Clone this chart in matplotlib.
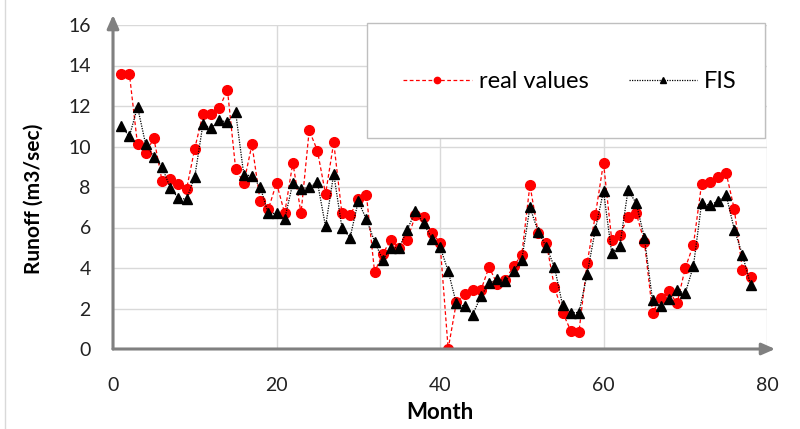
import matplotlib
matplotlib.use("Agg")
import matplotlib.pyplot as plt
from matplotlib.patches import Rectangle

months = list(range(1, 79))
real_values = [13.6, 13.6, 10.1, 9.7, 10.4, 8.3, 8.4, 8.15, 7.9, 9.9,
               11.6, 11.6, 11.9, 12.8, 8.9, 8.2, 10.1, 7.3, 6.9, 8.2,
               6.7, 9.2, 6.7, 10.8, 9.8, 7.65, 10.2, 6.7, 6.6, 7.4,
               7.6, 3.8, 4.7, 5.4, 5.0, 5.4, 6.6, 6.5, 5.75, 5.25,
               0.0, 2.3, 2.7, 2.9, 2.9, 4.05, 3.2, 3.4, 4.1, 4.65,
               8.1, 5.75, 5.25, 3.05, 1.8, 0.9, 0.85, 4.25, 6.6, 9.2,
               5.4, 5.65, 6.5, 6.7, 5.3, 1.8, 2.5, 2.85, 2.25, 4.0,
               5.15, 8.15, 8.25, 8.5, 8.7, 6.9, 3.9, 3.55]
fis_values = [11.0, 10.5, 11.95, 10.1, 9.5, 9.0, 7.95, 7.45, 7.4, 8.5,
              11.1, 10.9, 11.3, 11.2, 11.7, 8.6, 8.55, 8.0, 6.7, 6.7,
              6.4, 8.2, 7.9, 8.0, 8.25, 6.05, 8.65, 6.0, 5.5, 7.3,
              6.4, 5.3, 4.4, 5.0, 5.0, 5.9, 6.8, 6.2, 5.45, 5.05,
              3.85, 2.25, 2.1, 1.7, 2.6, 3.25, 3.45, 3.35, 3.85, 4.4,
              7.0, 5.8, 5.05, 4.05, 2.15, 1.8, 1.8, 3.7, 5.9, 7.8,
              4.75, 5.1, 7.85, 7.2, 5.5, 2.4, 2.1, 2.45, 2.9, 2.75,
              4.1, 7.2, 7.1, 7.3, 7.6, 5.9, 4.65, 3.15]
x_ticks = [0, 20, 40, 60, 80]
y_ticks = [0, 2, 4, 6, 8, 10, 12, 14, 16]

plt.rcParams['font.family'] = ['Lato', 'DejaVu Sans']

W, H = 800, 429
fig = plt.figure(figsize=(W/100, H/100), dpi=100)
ax = fig.add_axes([113/W, 1 - 349/H, (767-113)/W, (349-25)/H])

ax.plot(months, real_values, color='#ff0000', linestyle=(0, (3, 2)), linewidth=0.9,
        marker='o', markersize=7, markeredgecolor='#ff0000', markerfacecolor='#ff0000',
        label='real values', zorder=3)
ax.plot(months, fis_values, color='black', linestyle=(0, (1, 1)), linewidth=0.9,
        marker='^', markersize=7, markeredgecolor='black', markerfacecolor='black',
        label='FIS', zorder=4)

ax.set_xlim(0, 80)
ax.set_ylim(0, 16)
ax.set_xticks(x_ticks)
ax.set_yticks(y_ticks)
ax.grid(True, color='#d9d9d9', linewidth=1)
ax.set_axisbelow(True)
for s in ['top', 'right', 'left', 'bottom']:
    ax.spines[s].set_visible(False)
ax.tick_params(length=0, labelsize=14, colors='#222222')
ax.tick_params(axis='x', pad=20)
ax.tick_params(axis='y', pad=16)

arrow_style = dict(arrowstyle='-|>,head_length=0.8,head_width=0.35', color='#808080', lw=2.2,
                   shrinkA=0, shrinkB=0)
ax.annotate('', xy=(0, 16.5), xytext=(0, 0), arrowprops=arrow_style, annotation_clip=False)
ax.annotate('', xy=(81.0, 0), xytext=(0, 0), arrowprops=arrow_style, annotation_clip=False)

ax.set_xlabel('Month', fontsize=16, fontweight='bold')
ax.set_ylabel('Runoff (m3/sec)', fontsize=15, fontweight='bold')
ax.xaxis.set_label_coords(0.5, (349-402)/324)
ax.yaxis.set_label_coords((44-113)/654, (349-199)/324)

# legend frame box
fig.add_artist(Rectangle((367/W, 1 - 138/H), (765-367)/W, (138-23)/H, transform=fig.transFigure,
                         facecolor='white', edgecolor='#bfbfbf', linewidth=1, zorder=9))
leg = fig.legend(loc='center', bbox_to_anchor=(570/W, 1 - 82/H), ncol=2, frameon=False,
                 fontsize=17, markerscale=0.65, handlelength=2.9, borderaxespad=0,
                 columnspacing=1.7, handletextpad=0.3)
leg.set_zorder(10)

fig.add_artist(plt.Line2D([5/W, 5/W], [0, 1], color='#d9d9d9', lw=1))

fig.savefig('out.png', dpi=100)
